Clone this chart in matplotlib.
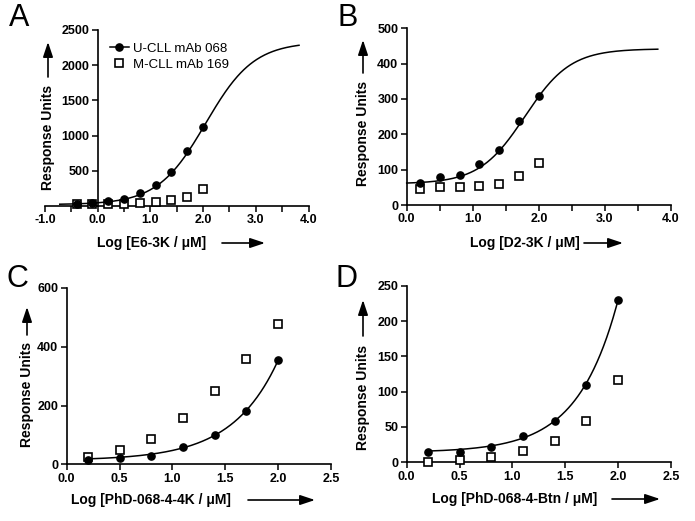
import numpy as np
import matplotlib
matplotlib.use('Agg')
import matplotlib.pyplot as plt
from matplotlib.patches import FancyArrowPatch
from matplotlib.lines import Line2D
from matplotlib.ticker import MultipleLocator, FormatStrFormatter, FuncFormatter

plt.rcParams['font.family'] = ['Liberation Sans', 'DejaVu Sans']
plt.rcParams['font.weight'] = 'bold'

# ---------------- data ----------------
log_conc_A = [-0.4, -0.1, 0.2, 0.5, 0.8, 1.1, 1.4, 1.7, 2.0]
u_cll_A = [32, 42, 66, 99, 184, 293, 483, 786, 1128]
m_cll_A = [24, 28, 24, 33, 43, 52, 80, 132, 235]

log_conc_B = [0.2, 0.5, 0.8, 1.1, 1.4, 1.7, 2.0]
u_cll_B = [61, 78, 85, 115, 156, 239, 309]
m_cll_B = [45, 52, 50, 55, 60, 83, 120]

log_conc_C = [0.2, 0.5, 0.8, 1.1, 1.4, 1.7, 2.0]
u_cll_C = [15, 20, 29, 60, 101, 182, 354]
m_cll_C = [25, 48, 87, 156, 248, 358, 476]

log_conc_D = [0.2, 0.5, 0.8, 1.1, 1.4, 1.7, 2.0]
u_cll_D = [15, 15, 22, 37, 58, 110, 230]
m_cll_D = [0, 3, 8, 16, 30, 59, 116]

# fitted curve parameters (sigmoidal dose-response: bottom, top, logEC50, hill)
fit_A = (20, 2330, 2.05, 0.95)
fit_B = (60, 442, 1.79, 1.26)
# exponential growth fits (base, amplitude, rate)
fit_C = (13, 3.41, 1.0)
fit_D = (14, 1.134, 1.14)

fit_range_A = (-0.72, 3.82)
fit_range_B = (0.0, 3.8)
fit_range_C = (0.2, 2.0)
fit_range_D = (0.2, 2.0)

series_labels = ['U-CLL mAb 068', 'M-CLL mAb 169']
x_labels = ['Log [E6-3K / \u03bcM]', 'Log [D2-3K / \u03bcM]',
            'Log [PhD-068-4-4K / \u03bcM]', 'Log [PhD-068-4-Btn / \u03bcM]']
y_label = 'Response Units'
panel_letters = ['A', 'B', 'C', 'D']


def sigmoid(x, p):
    b, t, ec, h = p
    return b + (t - b) / (1 + 10 ** ((ec - x) * h))


def expgrowth(x, p):
    base, amp, rate = p
    return base + amp * 10 ** (rate * x)


# ---------------- figure ----------------
W, H = 695, 521
fig = plt.figure(figsize=(W / 100, H / 100), dpi=100)


def px(x, y):
    return (x / W, 1 - y / H)


def make_ax(left, right, top, bottom):
    return fig.add_axes([left / W, 1 - bottom / H, (right - left) / W, (bottom - top) / H])


axA = make_ax(45, 308.5, 30, 206)
axB = make_ax(406.7, 671, 28.3, 205)
axC = make_ax(66.7, 331, 288, 464.3)
axD = make_ax(406.7, 671, 285.7, 462.3)


def style(ax, xlim, ylim, xmaj, xmin, ymaj, xfmt='%.1f'):
    ax.set_xlim(*xlim)
    ax.set_ylim(*ylim)
    for s in ['top', 'right']:
        ax.spines[s].set_visible(False)
    for s in ['left', 'bottom']:
        ax.spines[s].set_linewidth(1.2)
    ax.xaxis.set_major_locator(MultipleLocator(xmaj))
    ax.xaxis.set_minor_locator(MultipleLocator(xmin))
    ax.yaxis.set_major_locator(MultipleLocator(ymaj))
    ax.xaxis.set_major_formatter(FormatStrFormatter(xfmt))
    ax.yaxis.set_major_formatter(FormatStrFormatter('%d'))
    ax.tick_params(which='both', direction='out', length=4, width=1.1, pad=2, labelsize=9)
    ax.patch.set_alpha(0)


def plot_panel(ax, xs, u, m, curve_x, curve_y):
    ax.plot(xs, m, linestyle='none', marker='s', markersize=5.2, markerfacecolor='white',
            markeredgecolor='black', markeredgewidth=1.2, clip_on=False, zorder=3)
    ax.plot(curve_x, curve_y, color='black', lw=1.1, zorder=4, clip_on=False)
    ax.plot(xs, u, linestyle='none', marker='o', markersize=5.2, color='black',
            clip_on=False, zorder=5)


# Panel A
xA = np.linspace(*fit_range_A, 300)
plot_panel(axA, log_conc_A, u_cll_A, m_cll_A, xA, sigmoid(xA, fit_A))
style(axA, (-1, 4), (0, 2500), 1.0, 0.5, 500)
axA.spines['left'].set_position(('data', 0))
axA.yaxis.set_major_formatter(FuncFormatter(lambda v, p: '' if v == 0 else '%d' % v))

# Panel B
xB = np.linspace(*fit_range_B, 300)
plot_panel(axB, log_conc_B, u_cll_B, m_cll_B, xB, sigmoid(xB, fit_B))
style(axB, (0, 4), (0, 500), 1.0, 0.5, 100)

# Panel C
xC = np.linspace(*fit_range_C, 300)
plot_panel(axC, log_conc_C, u_cll_C, m_cll_C, xC, expgrowth(xC, fit_C))
style(axC, (0, 2.5), (0, 600), 0.5, 0.5, 200)

# Panel D
xD = np.linspace(*fit_range_D, 300)
plot_panel(axD, log_conc_D, u_cll_D, m_cll_D, xD, expgrowth(xD, fit_D))
style(axD, (0, 2.5), (0, 250), 0.5, 0.5, 50)

# Legend in A
h1 = Line2D([], [], color='black', lw=1.1, marker='o', markersize=5.2)
h2 = Line2D([], [], linestyle='none', marker='s', markersize=5.2, markerfacecolor='white',
            markeredgecolor='black', markeredgewidth=1.2)
axA.legend([h1, h2], series_labels, loc='upper left', bbox_to_anchor=(0.245, 0.93),
           frameon=False, borderpad=0, borderaxespad=0, handlelength=1.5,
           handletextpad=0.3, labelspacing=0.3,
           prop=dict(family='Liberation Sans', size=9.5, weight='normal'))

# Axis labels with arrows (positions in figure pixels)
lab_font = dict(family='Liberation Sans', weight='bold', size=10)
xlab_pos = [(97, 243, 222, 265), (470, 243, 584, 623), (71, 500, 248, 315), (432, 499, 612, 660)]
ylab_pos = [(48, 137, 77, 42), (363, 133, 73, 40), (27, 394, 335, 307), (363, 397, 336, 300)]
letter_pos = [(9, 3), (338, 3), (7, 264), (335, 264)]

arrow_style = '-|>,head_length=0.9,head_width=0.3'
for (tx, ty, a0, a1), lbl in zip(xlab_pos, x_labels):
    fig.text(*px(tx, ty), lbl, ha='left', va='center', **lab_font)
    fig.add_artist(FancyArrowPatch(px(a0, ty), px(a1, ty), transform=fig.transFigure,
                                   arrowstyle=arrow_style, mutation_scale=10, lw=1.2,
                                   color='black', shrinkA=0, shrinkB=0))

for (tx, ty, a0, a1) in ylab_pos:
    fig.text(*px(tx, ty), y_label, ha='center', va='center', rotation=90, **lab_font)
    fig.add_artist(FancyArrowPatch(px(tx, a0), px(tx, a1), transform=fig.transFigure,
                                   arrowstyle=arrow_style, mutation_scale=10, lw=1.2,
                                   color='black', shrinkA=0, shrinkB=0))

for (lx, ly), let in zip(letter_pos, panel_letters):
    fig.text(*px(lx, ly), let, ha='left', va='top', family='Liberation Sans',
             weight='normal', size=22)

fig.savefig('out.png', dpi=100, facecolor='white')
